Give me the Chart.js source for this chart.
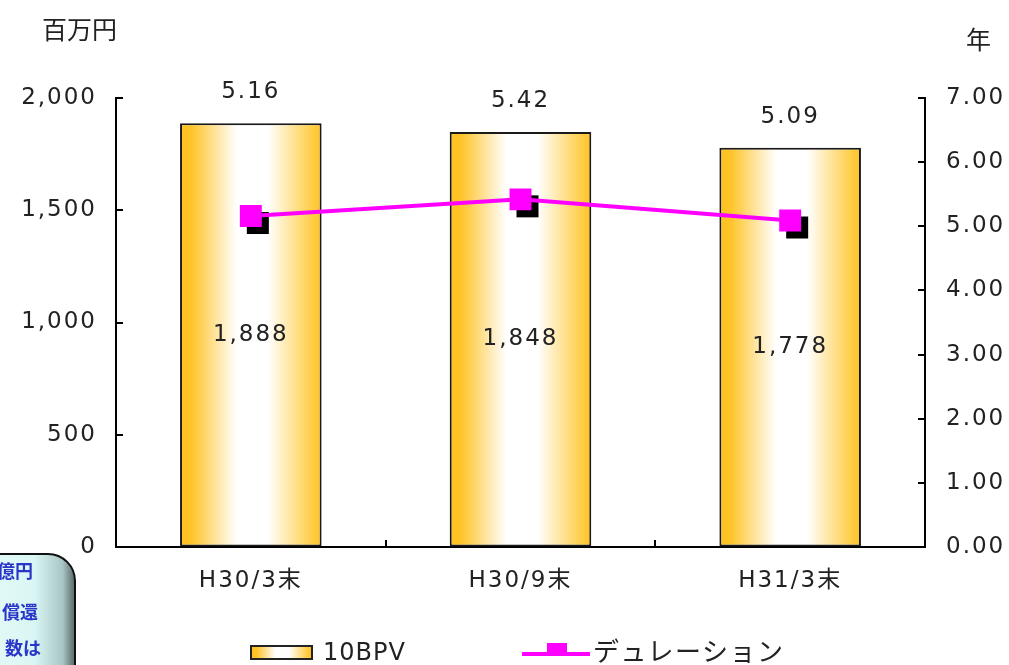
<!DOCTYPE html>
<html>
<head>
<meta charset="utf-8">
<script src="https://cdn.jsdelivr.net/npm/chart.js@4"></script>
<style>
  body { margin: 0; background: #fff; }
  #wrap { position: relative; width: 1009px; height: 665px; overflow: hidden; background: #fff; }
  #chart { position: absolute; left: 0; top: 0; }
  .lbl { position: absolute; white-space: nowrap; color: #222; font-family: 'Noto Sans CJK JP', sans-serif; }
  .note { position: absolute; left: -70px; top: 553px; width: 142px; height: 160px;
          border: 2px solid #111; border-radius: 28px;
          background: linear-gradient(90deg, #effdfc 0%, #d9f7f4 72%, #a9c6c5 92%, #5d6d6d 100%); }
  .note span { position: absolute; white-space: nowrap; font: bold 18px 'Noto Sans CJK JP', sans-serif; color: #2a36c8; line-height: 18px; }
  .swatch { position: absolute; left: 250px; top: 645px; width: 59px; height: 11px; border: 2px solid #222;
            background: linear-gradient(90deg, #ffc21f 0%, #ffc42a 8%, #ffffff 40%, #ffffff 62%, #ffc21f 100%); }
</style>
</head>
<body>
<div id="wrap">
  <canvas id="chart" width="1009" height="665"></canvas>
  <div class="lbl" style="left:42px; top:13px; font-size:25px; line-height:30px;">百万円</div>
  <div class="lbl" style="left:966px; top:23px; font-size:25px; line-height:30px;">年</div>
  <div class="note">
    <span style="left:65px; top:6px;">億円</span>
    <span style="left:70px; top:47px;">償還</span>
    <span style="left:73px; top:83px;">数は</span>
  </div>
  <div class="swatch"></div>
  <div class="lbl" style="left:323px; top:638px; font:24px 'DejaVu Sans', sans-serif; line-height:28px; letter-spacing:1px;">10BPV</div>
  <div style="position:absolute; left:522px; top:652px; width:68px; height:4px; background:#ff00ff;"></div>
  <div style="position:absolute; left:547px; top:643px; width:20px; height:10px; background:#ff00ff;"></div>
  <div class="lbl" style="left:593px; top:635px; font-size:26px; line-height:30px; letter-spacing:1.5px;">デュレーション</div>
</div>
<script>
// 10BPV (百万円) and duration (年) per period
const categories = ['H30/3末', 'H30/9末', 'H31/3末'];
const bpvValues = [1888, 1848, 1778];
const durationValues = [5.16, 5.42, 5.09];

const ORANGE = '#ffc21f';
const BAR_PCT = 0.525;
const TICK_LEN = 7;
const FONT = "'DejaVu Sans', 'Noto Sans CJK JP', sans-serif";

// horizontal orange-white-orange fill, one gradient per bar
function barFill(c) {
  const xs = c.chart.scales.x;
  if (c.type !== 'data' || !xs) return ORANGE;
  const cx = xs.getPixelForValue(c.dataIndex);
  const half = xs.width / categories.length * BAR_PCT / 2;
  if (!Number.isFinite(cx) || !Number.isFinite(half) || half <= 0) return ORANGE;
  const g = c.chart.ctx.createLinearGradient(cx - half, 0, cx + half, 0);
  g.addColorStop(0, ORANGE);
  g.addColorStop(0.08, '#ffc42a');
  g.addColorStop(0.4, '#ffffff');
  g.addColorStop(0.62, '#ffffff');
  g.addColorStop(1, ORANGE);
  return g;
}

// wider glyph spacing for all canvas text
const spacing = {
  id: 'spacing',
  beforeUpdate(chart) { chart.ctx.letterSpacing = '2px'; },
  beforeDraw(chart) { chart.ctx.letterSpacing = '2px'; }
};

// short tick marks pointing into the plot from each axis line
const innerTicks = {
  id: 'innerTicks',
  afterDraw(chart) {
    const { ctx, chartArea: a, scales } = chart;
    ctx.save();
    ctx.strokeStyle = '#000';
    ctx.lineWidth = 2;
    ctx.beginPath();
    scales.y.ticks.forEach(t => {
      const y = Math.round(scales.y.getPixelForValue(t.value));
      ctx.moveTo(a.left, y); ctx.lineTo(a.left + TICK_LEN, y);
    });
    scales.y1.ticks.forEach(t => {
      const y = Math.round(scales.y1.getPixelForValue(t.value));
      ctx.moveTo(a.right, y); ctx.lineTo(a.right - TICK_LEN, y);
    });
    const step = scales.x.width / categories.length;
    for (let i = 1; i < categories.length; i++) {
      const x = Math.round(scales.x.left + i * step);
      ctx.moveTo(x, a.bottom); ctx.lineTo(x, a.bottom - TICK_LEN);
    }
    ctx.stroke();
    ctx.restore();
  }
};

// black drop shadow under the duration markers
const markerShadow = {
  id: 'markerShadow',
  beforeDatasetDraw(chart, args) {
    if (args.meta.type !== 'line') return;
    const ctx = chart.ctx;
    ctx.save();
    ctx.fillStyle = '#000';
    args.meta.data.forEach(p => ctx.fillRect(p.x - 11 + 7, p.y - 11 + 7, 22, 22));
    ctx.restore();
  }
};

// value labels: bpv inside each bar, duration above each bar
const valueLabels = {
  id: 'valueLabels',
  afterDatasetsDraw(chart) {
    const ctx = chart.ctx;
    const bars = chart.getDatasetMeta(1).data;
    ctx.save();
    ctx.fillStyle = '#222';
    ctx.font = '23px ' + FONT;
    ctx.textAlign = 'center';
    ctx.textBaseline = 'middle';
    bars.forEach((b, i) => {
      ctx.fillText(bpvValues[i].toLocaleString('en-US'), b.x, (b.y + b.base) / 2);
      ctx.fillText(durationValues[i].toFixed(2), b.x, b.y - 31);
    });
    ctx.restore();
  }
};

const tickFont = { family: FONT, size: 23 };
const noGrid = { drawOnChartArea: false, drawTicks: false };
const axisLine = { display: true, color: '#000', width: 2 };

const config = {
  type: 'bar',
  data: {
    labels: categories,
    datasets: [
      {
        type: 'line',
        label: 'デュレーション',
        data: durationValues,
        yAxisID: 'y1',
        order: 0,
        borderColor: '#ff00ff',
        borderWidth: 4,
        backgroundColor: '#ff00ff',
        pointStyle: 'rect',
        pointRadius: 15.5,
        pointBorderWidth: 0,
        tension: 0
      },
      {
        label: '10BPV',
        data: bpvValues,
        yAxisID: 'y',
        order: 1,
        backgroundColor: barFill,
        borderColor: '#1a1a1a',
        borderWidth: 2,
        borderSkipped: false,
        categoryPercentage: 1,
        barPercentage: BAR_PCT
      }
    ]
  },
  options: {
    responsive: false,
    animation: false,
    devicePixelRatio: 1,
    layout: { padding: { top: 98, left: 0, right: 0, bottom: 0 } },
    plugins: {
      legend: { display: false },
      tooltip: { enabled: false }
    },
    scales: {
      x: {
        afterFit(s) { s.height = 118; },
        border: axisLine,
        grid: noGrid,
        ticks: { color: '#222', font: tickFont, padding: 20, maxRotation: 0 }
      },
      y: {
        position: 'left',
        min: 0,
        max: 2000,
        afterFit(s) { s.width = 116; },
        border: axisLine,
        grid: noGrid,
        ticks: { stepSize: 500, color: '#222', font: tickFont, padding: 19,
                 callback: v => v.toLocaleString('en-US') }
      },
      y1: {
        position: 'right',
        min: 0,
        max: 7,
        afterFit(s) { s.width = 84; },
        border: axisLine,
        grid: noGrid,
        ticks: { stepSize: 1, color: '#222', font: tickFont, padding: 21,
                 callback: v => v.toFixed(2) }
      }
    }
  },
  plugins: [spacing, innerTicks, markerShadow, valueLabels]
};

const myChart = new Chart(document.getElementById('chart'), config);
</script>
</body>
</html>
